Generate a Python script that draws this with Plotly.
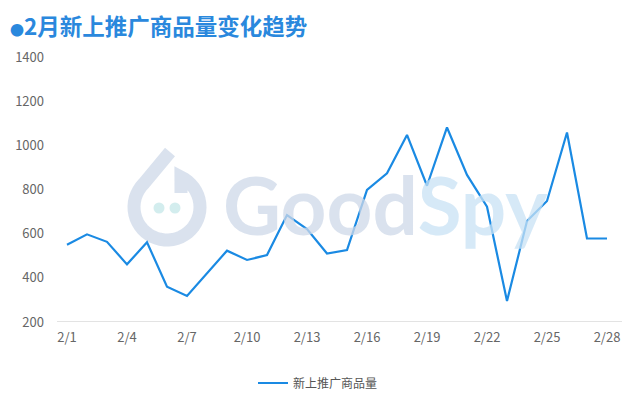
import math
import plotly.graph_objects as go

dates = [f"2/{d}" for d in range(1, 29)]
values = [550, 597, 563, 461, 561, 360, 318, 420, 523, 481, 503, 684, 621, 510,
          526, 798, 873, 1047, 817, 1081, 866, 722, 295, 657, 748, 1058, 578, 578]
tick_labels = ["2/1", "2/4", "2/7", "2/10", "2/13", "2/16", "2/19", "2/22", "2/25", "2/28"]
y_ticks = [200, 400, 600, 800, 1000, 1200, 1400]
series_name = "新上推广商品量"
title_text = "2月新上推广商品量变化趋势"

xs = list(range(len(dates)))
tick_pos = [dates.index(t) for t in tick_labels]

fig = go.Figure()
fig.add_trace(go.Scatter(
    x=xs, y=values, mode="lines", name=series_name,
    line=dict(color="#1a8ae3", width=2.2),
    showlegend=True,
))

font_cjk = "Noto Sans CJK SC, Noto Sans, sans-serif"
OFF = 8  # page body margin
W, H = 630, 401
# plot area in screen pixels
SL, SR, ST, SB = 57, 622, 57, 322
PL, PT = SL - OFF, ST - OFF
PW, PH = SR - SL, SB - ST


def px(x):
    return (x - SL) / PW


def py(y):
    return (SB - y) / PH


fig.update_layout(
    width=W, height=H,
    margin=dict(l=PL, r=W - PL - PW, t=PT, b=H - PT - PH, autoexpand=False),
    paper_bgcolor="white", plot_bgcolor="white",
    font=dict(family=font_cjk, color="#666666", size=13),
    xaxis=dict(
        range=[-0.5, 27.75], tickmode="array", tickvals=tick_pos, ticktext=tick_labels,
        showgrid=False, zeroline=False, showline=False, ticks="", automargin=False,
        tickfont=dict(size=13, color="#666666"), ticklabelstandoff=6,
    ),
    yaxis=dict(
        range=[200, 1400], tickmode="array", tickvals=y_ticks,
        showgrid=False, zeroline=False, showline=False, ticks="", automargin=False,
        tickfont=dict(size=13, color="#666666"), ticklabelstandoff=12,
    ),
    legend=dict(orientation="h", x=px(318), xanchor="center", y=py(383), yanchor="middle",
                font=dict(size=12, color="#555555"), itemwidth=30),
    showlegend=True,
)

# baseline
fig.add_shape(type="line", xref="paper", yref="y", x0=0, x1=1, y0=200, y1=200,
              line=dict(color="#e3e3e3", width=2), layer="below")

# title
fig.add_annotation(
    text=f"<span style='font-size:14px'>●</span><b>{title_text}</b>",
    xref="paper", yref="paper", x=px(9), y=py(8), xanchor="left", yanchor="top",
    showarrow=False, borderpad=0, font=dict(size=22.5, color="#2a88dd", family=font_cjk))

# watermark text
fig.add_annotation(
    text="<b><span style='color:rgba(205,216,232,0.75)'>Good</span>"
         "<span style='color:rgba(200,226,244,0.75)'>Spy</span></b>",
    xref="paper", yref="paper", x=px(385), y=py(204), xanchor="center", yanchor="middle",
    showarrow=False, font=dict(size=80, family="Lato"))

# watermark logo (swirl ring + tail + two dots)
cx, cy, r = 167, 207, 33
pts = [(170, 152)]
for i in range(0, 41):
    a = math.radians(135 + i * (290 / 40))
    pts.append((cx + r * math.cos(a), cy - r * math.sin(a)))
pts.append((cx + 14, cy - 14))
path = "M " + " L ".join(f"{px(x):.5f},{py(y):.5f}" for x, y in pts)
fig.add_shape(type="path", xref="paper", yref="paper", path=path,
              line=dict(color="rgba(205,216,232,0.75)", width=13), layer="below")
for dx in (-8, 8):
    fig.add_shape(type="circle", xref="paper", yref="paper",
                  x0=px(cx + dx - 5.5), x1=px(cx + dx + 5.5), y0=py(cy + 1 + 5.5), y1=py(cy + 1 - 5.5),
                  line=dict(width=0), fillcolor="rgba(200,232,234,0.8)", layer="below")

fig.write_html("out.html")
